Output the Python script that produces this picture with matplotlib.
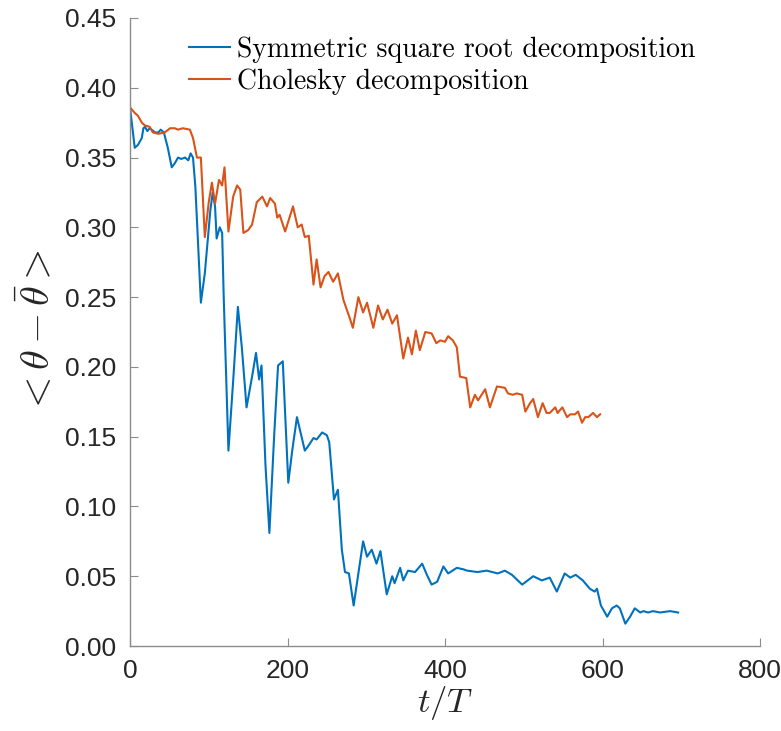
import matplotlib
matplotlib.use("Agg")
import matplotlib.pyplot as plt

plt.rcParams['mathtext.fontset'] = 'cm'

# Symmetric square root decomposition (blue)
sym_t = [0, 6, 10, 15, 17, 19, 22, 25, 32, 36, 39, 43, 48, 53, 57, 61, 65, 70, 74, 77,
         80, 83, 90, 95, 102, 105, 108, 110, 114, 117, 119, 125, 131, 137, 142, 148, 155,
         160, 164, 167, 172, 177, 183, 188, 194, 201, 206, 212, 217, 222, 226, 233, 237,
         244, 250, 253, 259, 264, 269, 273, 278, 284, 290, 296, 301, 307, 313, 318, 326,
         333, 336, 343, 347, 353, 362, 371, 377, 383, 390, 398, 404, 415, 423, 428, 441,
         453, 467, 476, 485, 498, 512, 523, 533, 542, 552, 559, 566, 575, 584, 590, 593,
         598, 606, 612, 618, 622, 629, 635, 641, 648, 652, 658, 664, 673, 686, 696]
sym_v = [0.386, 0.357, 0.359, 0.364, 0.371, 0.372, 0.369, 0.371, 0.368, 0.368, 0.370,
         0.368, 0.357, 0.343, 0.346, 0.350, 0.349, 0.350, 0.348, 0.353, 0.350, 0.329,
         0.246, 0.267, 0.312, 0.325, 0.315, 0.292, 0.300, 0.296, 0.250, 0.140, 0.190,
         0.243, 0.214, 0.171, 0.193, 0.210, 0.191, 0.201, 0.130, 0.081, 0.150, 0.201,
         0.204, 0.117, 0.140, 0.164, 0.152, 0.140, 0.143, 0.149, 0.148, 0.153, 0.151,
         0.146, 0.105, 0.112, 0.069, 0.053, 0.052, 0.029, 0.052, 0.075, 0.064, 0.069,
         0.059, 0.068, 0.037, 0.050, 0.045, 0.056, 0.047, 0.054, 0.053, 0.059, 0.051,
         0.044, 0.046, 0.057, 0.052, 0.056, 0.055, 0.054, 0.053, 0.054, 0.052, 0.054,
         0.051, 0.044, 0.050, 0.047, 0.049, 0.039, 0.052, 0.049, 0.051, 0.047, 0.041,
         0.039, 0.041, 0.029, 0.021, 0.027, 0.029, 0.027, 0.016, 0.021, 0.027, 0.024,
         0.025, 0.024, 0.025, 0.024, 0.025, 0.024]

# Cholesky decomposition (orange)
chol_t = [0, 6, 10, 15, 19, 25, 29, 36, 44, 51, 57, 61, 67, 76, 80, 85, 90, 95, 100,
          104, 108, 113, 117, 120, 125, 131, 136, 140, 144, 150, 155, 161, 168, 174, 178,
          184, 187, 190, 197, 207, 213, 218, 222, 227, 233, 237, 242, 247, 252, 258, 264,
          271, 279, 283, 290, 296, 301, 309, 315, 321, 327, 333, 339, 347, 353, 358, 363,
          368, 375, 383, 389, 394, 400, 404, 410, 415, 419, 427, 432, 438, 442, 451, 457,
          466, 476, 480, 486, 491, 498, 502, 508, 512, 518, 524, 529, 533, 540, 543, 549,
          555, 559, 565, 569, 574, 578, 582, 588, 593, 597]
chol_v = [0.386, 0.382, 0.380, 0.375, 0.373, 0.372, 0.368, 0.367, 0.368, 0.371, 0.371,
          0.370, 0.371, 0.370, 0.364, 0.350, 0.350, 0.293, 0.318, 0.332, 0.317, 0.334,
          0.330, 0.343, 0.297, 0.322, 0.330, 0.327, 0.296, 0.298, 0.302, 0.318, 0.322,
          0.315, 0.321, 0.317, 0.307, 0.309, 0.297, 0.315, 0.300, 0.302, 0.293, 0.294,
          0.259, 0.277, 0.257, 0.265, 0.268, 0.261, 0.267, 0.248, 0.235, 0.228, 0.250,
          0.239, 0.246, 0.228, 0.244, 0.234, 0.241, 0.231, 0.237, 0.206, 0.221, 0.209,
          0.226, 0.212, 0.225, 0.224, 0.217, 0.219, 0.218, 0.222, 0.219, 0.214, 0.193,
          0.192, 0.171, 0.180, 0.176, 0.184, 0.171, 0.186, 0.185, 0.181, 0.180, 0.181,
          0.180, 0.168, 0.174, 0.177, 0.164, 0.174, 0.167, 0.167, 0.171, 0.167, 0.171,
          0.164, 0.166, 0.166, 0.168, 0.160, 0.164, 0.164, 0.167, 0.164, 0.166]

series_labels = ["Symmetric square root decomposition", "Cholesky decomposition"]
x_ticks = [0, 200, 400, 600, 800]
y_ticks = [0.00, 0.05, 0.10, 0.15, 0.20, 0.25, 0.30, 0.35, 0.40, 0.45]

fig = plt.figure(figsize=(7.81, 7.31), dpi=100)
ax = fig.add_axes([130/781, 85/731, 630/781, 628/731])

ax.plot(sym_t, sym_v, color='#0072BD', lw=1.5, label=series_labels[0])
ax.plot(chol_t, chol_v, color='#D95319', lw=1.5, label=series_labels[1])

ax.set_xlim(0, 800)
ax.set_ylim(0, 0.45)
ax.set_xticks(x_ticks)
ax.set_yticks(y_ticks)
ax.set_yticklabels([f"{v:.2f}" for v in y_ticks])

ax.spines['top'].set_visible(False)
ax.spines['right'].set_visible(False)
for s in ('left', 'bottom'):
    ax.spines[s].set_color('#8c8c8c')
    ax.spines[s].set_linewidth(1.0)
ax.tick_params(direction='in', length=6, width=0.8, color='#8c8c8c',
               labelsize=19, labelcolor='#262626', top=False, right=False)
ax.tick_params(axis='y', pad=10)
ax.tick_params(axis='x', pad=9)
for lab in ax.get_xticklabels() + ax.get_yticklabels():
    lab.set_family(['Liberation Sans', 'DejaVu Sans'])

ax.set_xlabel(r'$t/T$', fontsize=25, labelpad=1, color='#262626')
ax.set_ylabel(r'$<\theta-\bar{\theta}>$', fontsize=29, labelpad=4, color='#262626')

leg = ax.legend(loc='upper left', bbox_to_anchor=(0.071, 0.993), frameon=False,
                prop={'family': 'cmr10', 'size': 20}, handlelength=1.5,
                handletextpad=0.25, borderpad=0, labelspacing=0.2)

fig.savefig('out.png', dpi=100, facecolor='white')
